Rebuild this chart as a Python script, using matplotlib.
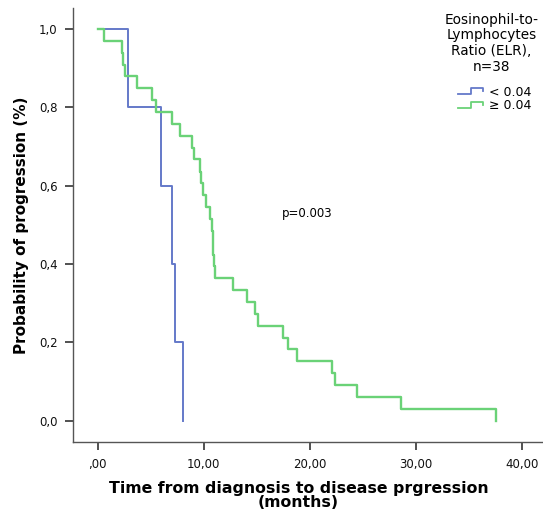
"""Kaplan-Meier style progression curves by ELR group."""

import matplotlib

matplotlib.use("Agg")
import matplotlib.pyplot as plt
from matplotlib.legend_handler import HandlerBase
from matplotlib.lines import Line2D

# ELR < 0.04 (n=5)
low_times = [0.0, 2.86, 5.94, 7.03, 7.29, 8.08]
low_prob = [1.0, 0.8, 0.6, 0.4, 0.2, 0.0]

# ELR >= 0.04 (n=33)
high_times = [
    0.0, 0.59, 2.24, 2.42, 2.58, 3.71, 5.12, 5.47, 6.98, 7.80, 8.90, 9.08,
    9.62, 9.70, 9.93, 10.19, 10.63, 10.78, 10.85, 10.90, 11.00, 11.05,
    12.76, 14.03, 14.81, 15.12, 17.48, 17.95, 18.84, 22.10, 22.39, 24.46,
    28.58, 37.55,
]
high_prob = [
    1.000, 0.970, 0.939, 0.909, 0.879, 0.848, 0.818, 0.788, 0.758, 0.727,
    0.697, 0.667, 0.636, 0.606, 0.576, 0.545, 0.515, 0.485, 0.455, 0.424,
    0.394, 0.364, 0.333, 0.303, 0.273, 0.242, 0.212, 0.182, 0.152, 0.121,
    0.091, 0.061, 0.030, 0.000,
]

group_labels = ["< 0.04", "\u2265 0.04"]
legend_title = "Eosinophil-to-\nLymphocytes\nRatio (ELR),\nn=38"
x_ticks = [0, 10, 20, 30, 40]
x_ticklabels = [",00", "10,00", "20,00", "30,00", "40,00"]
y_ticks = [0.0, 0.2, 0.4, 0.6, 0.8, 1.0]
y_ticklabels = ["0,0", "0,2", "0,4", "0,6", "0,8", "1,0"]

BLUE = "#6479c9"
GREEN = "#6ad277"
AXIS = "#555555"


class StepHandler(HandlerBase):
    # little step-shaped swatch like SPSS legends
    def create_artists(self, legend, orig_handle, xdescent, ydescent,
                       width, height, fontsize, trans):
        w, h = width, height
        xs = [0, 0.5 * w, 0.5 * w, w, w]
        ys = [0.15 * h, 0.15 * h, 0.85 * h, 0.85 * h, 0.5 * h]
        ln = Line2D([x - xdescent for x in xs], [y - ydescent for y in ys],
                    color=orig_handle.get_color(), lw=1.3, transform=trans)
        return [ln]


def main():
    fig = plt.figure(figsize=(5.43, 5.12), dpi=100)
    ax = fig.add_axes([0.134, 0.136, 0.866, 0.849])

    l1, = ax.step(low_times, low_prob, where="post", color=BLUE, lw=1.4)
    l2, = ax.step(high_times, high_prob, where="post", color=GREEN, lw=1.7)

    ax.set_xlim(-2.36, 42.0)
    ax.set_ylim(-0.055, 1.054)
    ax.set_xticks(x_ticks)
    ax.set_xticklabels(x_ticklabels)
    ax.set_yticks(y_ticks)
    ax.set_yticklabels(y_ticklabels)
    ax.tick_params(direction="out", length=6, width=1.2, color="#333333",
                   labelsize=8.5, labelcolor="#111111", pad=5)

    for side in ("top", "right"):
        ax.spines[side].set_visible(False)
    for side in ("left", "bottom"):
        ax.spines[side].set_color(AXIS)
        ax.spines[side].set_linewidth(1.0)

    ax.set_xlabel("Time from diagnosis to disease prgression\n(months)",
                  fontsize=11.3, fontweight="bold", linespacing=0.85)
    ax.xaxis.set_label_coords(0.48, -0.09)
    ax.set_ylabel("Probability of progression (%)", fontsize=11,
                  fontweight="bold", labelpad=7)

    ax.text(19.8, 0.53, "p=0.003", fontsize=8.5, ha="center", va="center")

    # legend title drawn separately so the gap to the entries matches
    fig.text(0.905, 0.975, legend_title, fontsize=9.8, ha="center", va="top",
             multialignment="center", linespacing=1.15)
    fig.legend([l1, l2], group_labels,
               handler_map={Line2D: StepHandler()},
               loc="upper left", bbox_to_anchor=(0.832, 0.845),
               frameon=False, fontsize=9, handlelength=2.0,
               handletextpad=0.5, labelspacing=0.05, borderpad=0.0)

    fig.savefig("out.png", dpi=100)
    plt.close(fig)


if __name__ == "__main__":
    main()
